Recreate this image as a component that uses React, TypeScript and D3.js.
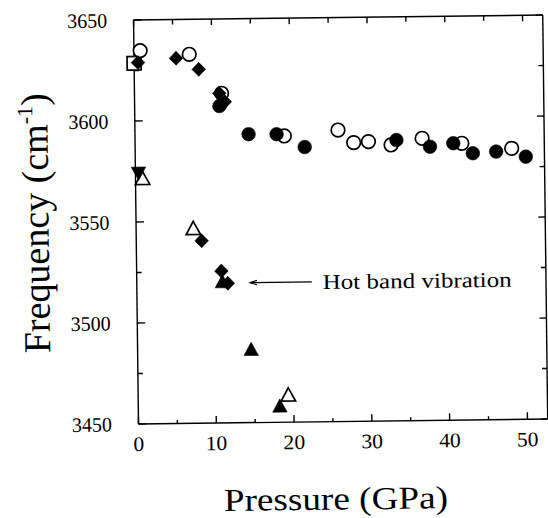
import React from 'react';
import * as d3 from 'd3';

// ---- data (pressure GPa, frequency cm^-1) ----
const openCircles: [number, number][] = [
  [0.8, 3634.8], [7.1, 3632.7], [11.2, 3613.2], [19.2, 3591.7], [26.1, 3594.3],
  [28.1, 3588.0], [30.0, 3588.4], [32.9, 3586.6], [36.9, 3589.7], [42.0, 3587.0], [48.4, 3584.2],
];
const filledCircles: [number, number][] = [
  [10.9, 3606.9], [14.6, 3592.8], [18.2, 3592.6], [21.8, 3586.1], [33.6, 3589.0],
  [37.9, 3585.5], [40.9, 3587.1], [43.4, 3582.0], [46.4, 3582.7], [50.2, 3580.0],
];
const filledDiamonds: [number, number][] = [
  [0.5, 3628.9], [5.4, 3630.8], [8.3, 3625.2], [10.9, 3613.2], [11.6, 3609.0],
  [8.4, 3540.3], [10.9, 3525.2], [11.7, 3519.1],
];
const openSquares: [number, number][] = [[0.0, 3628.6]];
const filledDownTriangles: [number, number][] = [[0.4, 3574.1]];
const openTriangles: [number, number][] = [[0.9, 3571.6], [7.35, 3546.5], [19.3, 3463.5]];
const filledTriangles: [number, number][] = [[11.0, 3520.0], [14.6, 3486.3], [18.2, 3458.1]];

const xTickLabels = [0, 10, 20, 30, 40, 50];
const yTickLabels = [3450, 3500, 3550, 3600, 3650];
const xDomain: [number, number] = [0, 52.6];
const yDomain: [number, number] = [3450, 3650];

const annotationText = 'Hot band vibration';
const annotationPos: [number, number] = [23.9, 3515.7];
const arrowFrom: [number, number] = [22.5, 3519.3];
const arrowTo: [number, number] = [14.55, 3519.3];

// ---- layout ----
const W = 548, H = 518;
const X0 = 138.5, X1 = 547.7, Y0 = 424, Y1 = 20;
const x = d3.scaleLinear().domain(xDomain).range([X0, X1]);
const y = d3.scaleLinear().domain(yDomain).range([Y0, Y1]);
const FONT = '"Liberation Serif", "Times New Roman", serif';

const R = 6.8;
const circlePath = d3.symbol(d3.symbolCircle, Math.PI * R * R)() as string;
const diamondPath = 'M0,-7L6.8,0L0,7L-6.8,0Z';
const triUpPath = 'M0,-7L7.2,6.2L-7.2,6.2Z';
const triDownPath = 'M0,7L7.2,-6.2L-7.2,-6.2Z';
const squarePath = 'M-7,-6.8H7V6.8H-7Z';

function Marks({ data, d, filled }: { data: [number, number][]; d: string; filled: boolean }) {
  return (
    <g>
      {data.map(([p, f], i) => (
        <path
          key={i}
          d={d}
          transform={`translate(${x(p)},${y(f)})`}
          fill={filled ? '#000' : '#fff'}
          stroke="#000"
          strokeWidth={filled ? 0.6 : 1.7}
        />
      ))}
    </g>
  );
}

export default function App() {
  const xt5 = d3.range(0, xDomain[1], 5);
  const yt25 = d3.range(3450, 3651, 25);
  const tickStyle = { fontFamily: FONT, fontSize: '20.5px' };
  return (
    <svg width={W} height={H} style={{ position: 'absolute', left: 0, top: 0, background: '#fff' }}>
      <rect x={0} y={0} width={W} height={H} fill="#fff" />
      <g transform={`rotate(-0.7, ${X0}, ${Y0})`}>
        {/* frame */}
        <g stroke="#000" strokeWidth={1.4} fill="none">
          <line x1={X0} x2={X1} y1={Y0} y2={Y0} />
          <line x1={X0} x2={X1} y1={Y1} y2={Y1} />
          <line x1={X0} x2={X0} y1={Y0} y2={Y1} />
          <line x1={X1} x2={X1} y1={Y0} y2={Y1} />
          {xt5.map((t) => (
            <line key={'b' + t} x1={x(t)} x2={x(t)} y1={Y0} y2={Y0 - (t % 10 === 0 ? 7 : 3.5)} />
          ))}
          {xt5.map((t) => (
            <line key={'t' + t} x1={x(t)} x2={x(t)} y1={Y1} y2={Y1 + (t % 10 === 0 ? 6 : 5)} />
          ))}
          {yt25.map((t) => (
            <line key={'l' + t} x1={X0} x2={X0 + (t % 50 === 0 ? 8 : 5)} y1={y(t)} y2={y(t)} />
          ))}
          {yt25.map((t) => (
            <line key={'r' + t} x1={X1} x2={X1 - (t % 50 === 0 ? 7 : 5)} y1={y(t)} y2={y(t)} />
          ))}
        </g>
        {/* tick labels */}
        {xTickLabels.map((t) => (
          <text key={'xl' + t} x={x(t)} y={Y0 + 27} textAnchor="middle" style={tickStyle} fill="#000"
            textLength={String(t).length * 10.8} lengthAdjust="spacingAndGlyphs">{t}</text>
        ))}
        {yTickLabels.map((t) => (
          <text key={'yl' + t} x={X0 - 26.5} y={y(t)} dy="0.35em" textAnchor="end" style={tickStyle} fill="#000"
            textLength={40} lengthAdjust="spacingAndGlyphs">{t}</text>
        ))}
        {/* axis titles */}
        <text x={335} y={512} textAnchor="middle" textLength={224}
          lengthAdjust="spacingAndGlyphs" style={{ fontFamily: FONT, fontSize: '32px' }}>Pressure (GPa)</text>
        <text transform="translate(51,222) rotate(-90)" textAnchor="middle"
          style={{ fontFamily: FONT, fontSize: '38px' }}>
          Frequency (cm<tspan style={{ fontSize: '22px' }} dy={-15}>-1</tspan><tspan dy={15}>)</tspan>
        </text>
        {/* marks */}
        <Marks data={openSquares} d={squarePath} filled={false} />
        <Marks data={openTriangles} d={triUpPath} filled={false} />
        <Marks data={openCircles} d={circlePath} filled={false} />
        <Marks data={filledDiamonds} d={diamondPath} filled={true} />
        <Marks data={filledCircles} d={circlePath} filled={true} />
        <Marks data={filledDownTriangles} d={triDownPath} filled={true} />
        <Marks data={filledTriangles} d={triUpPath} filled={true} />
        {/* annotation */}
        <g stroke="#000" strokeWidth={1.1} fill="none">
          <line x1={x(arrowFrom[0])} x2={x(arrowTo[0])} y1={y(arrowFrom[1])} y2={y(arrowTo[1])} />
          <path d={`M${x(arrowTo[0]) + 7},${y(arrowTo[1]) - 2.2}L${x(arrowTo[0])},${y(arrowTo[1])}L${x(arrowTo[0]) + 7},${y(arrowTo[1]) + 2.2}`} />
        </g>
        <text x={x(annotationPos[0])} y={y(annotationPos[1])} textLength={189}
          lengthAdjust="spacingAndGlyphs" style={{ fontFamily: FONT, fontSize: '21px' }}>{annotationText}</text>
      </g>
    </svg>
  );
}
